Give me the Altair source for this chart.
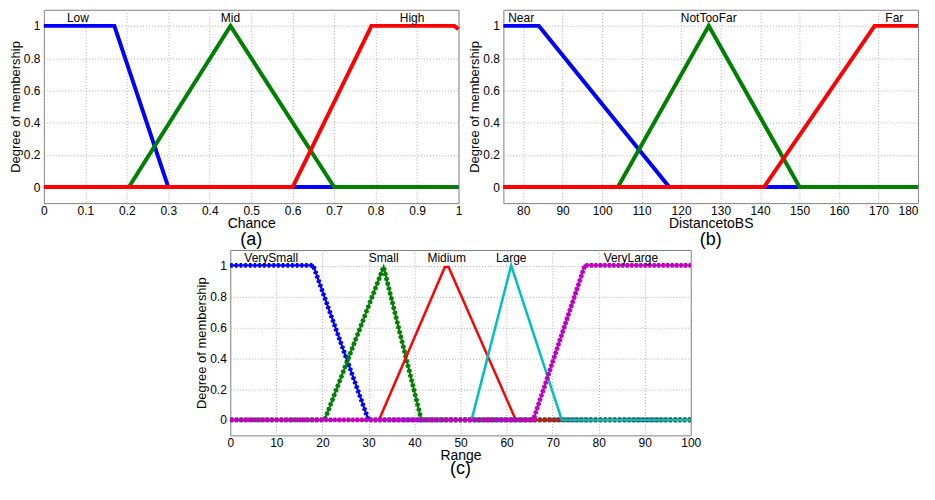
import altair as alt
import pandas as pd

# ---------------- Panel (a): Chance ----------------
A_LOW_X = [0.0, 0.17, 0.30, 1.0]
A_LOW_Y = [1, 1, 0, 0]
A_MID_X = [0.0, 0.205, 0.45, 0.70, 1.0]
A_MID_Y = [0, 0, 1, 0, 0]
A_HIGH_X = [0.0, 0.60, 0.79, 0.99, 1.0]
A_HIGH_Y = [0, 0, 1, 1, 0.98]
A_LABELS = ["Low", "Mid", "High"]
A_LABEL_X = [0.082, 0.45, 0.888]
A_XTICKS = [0, 0.1, 0.2, 0.3, 0.4, 0.5, 0.6, 0.7, 0.8, 0.9, 1.0]

# ---------------- Panel (b): DistancetoBS ----------------
B_NEAR_X = [75, 84, 117, 180]
B_NEAR_Y = [1, 1, 0, 0]
B_NTF_X = [75, 104, 127, 150, 180]
B_NTF_Y = [0, 0, 1, 0, 0]
B_FAR_X = [75, 141, 169, 180]
B_FAR_Y = [0, 0, 1, 1]
B_LABELS = ["Near", "NotTooFar", "Far"]
B_LABEL_X = [79.5, 127, 174]
B_XTICKS = [80, 90, 100, 110, 120, 130, 140, 150, 160, 170, 180]

# ---------------- Panel (c): Range ----------------
C_VS_X = [0, 18, 30, 100]
C_VS_Y = [1, 1, 0, 0]
C_S_X = [0, 20.5, 33.3, 41.5, 100]
C_S_Y = [0, 0, 0.99, 0, 0]
C_M_X = [0, 32.3, 46.6, 47.4, 62, 100]
C_M_Y = [0, 0, 0.99, 0.99, 0, 0]
C_L_X = [0, 52.4, 61, 72, 100]
C_L_Y = [0, 0, 1, 0, 0]
C_VL_X = [0, 65.8, 77, 100]
C_VL_Y = [0, 0, 1, 1]
C_LABELS = ["VerySmall", "Small", "Midium", "Large", "VeryLarge"]
C_LABEL_X = [8.9, 33.3, 47, 61, 87]
C_XTICKS = [0, 10, 20, 30, 40, 50, 60, 70, 80, 90, 100]

Y_TICKS = [0, 0.2, 0.4, 0.6, 0.8, 1.0]
LABEL_Y = 1.05

BLUE = "#0000FF"
GREEN = "#008000"
RED = "#FF0000"
CYAN = "#00BFBF"
MAGENTA = "#BF00BF"

FONT = "Liberation Sans"


def panel(series, xdomain, xticks, xtitle, letter, labels, label_x, w, h, xfmt,
          flush=False, letter_off=37):
    xscale = alt.Scale(domain=xdomain, nice=False, zero=False)
    yscale = alt.Scale(domain=[-0.1, 1.1], nice=False)
    xaxis = alt.Axis(values=xticks, format=xfmt, title=xtitle, grid=True,
                     ticks=False, domain=False, labelPadding=2, titlePadding=0,
                     titleFontSize=14, titleFontWeight="normal", labelFontSize=12,
                     labelFont=FONT, titleFont=FONT, labelColor="black",
                     titleColor="black", labelFlush=flush,
                     gridColor="#b0b0b0", gridDash=[1, 2])
    yaxis = alt.Axis(values=Y_TICKS, format=".1~f", title="Degree of membership",
                     grid=True, ticks=False, domain=False, labelPadding=4,
                     titlePadding=1, titleFontSize=13, titleFontWeight="normal",
                     labelFontSize=12, labelFont=FONT, titleFont=FONT,
                     labelColor="black", titleColor="black",
                     gridColor="#b0b0b0", gridDash=[1, 2])
    layers = []
    for xs, ys, color, sw, dash in series:
        df = pd.DataFrame({"x": xs, "y": ys})
        enc = dict(x=alt.X("x:Q", scale=xscale, axis=xaxis),
                   y=alt.Y("y:Q", scale=yscale, axis=yaxis))
        layers.append(alt.Chart(df).mark_line(color=color, strokeWidth=sw, clip=False)
                      .encode(**enc))
        if dash:
            layers.append(alt.Chart(df).mark_line(color=color, strokeWidth=sw + 2.5,
                                                  strokeDash=dash, clip=False)
                          .encode(**enc))
    ldf = pd.DataFrame({"x": label_x, "y": [LABEL_Y] * len(labels), "t": labels})
    layers.append(alt.Chart(ldf).mark_text(fontSize=12, font=FONT, color="black",
                                           baseline="middle")
                  .encode(x=alt.X("x:Q", scale=xscale, axis=xaxis),
                          y=alt.Y("y:Q", scale=yscale, axis=yaxis), text="t:N"))
    tdf = pd.DataFrame({"t": [letter]})
    layers.append(alt.Chart(tdf).mark_text(fontSize=18, font=FONT, color="black",
                                           baseline="middle")
                  .encode(x=alt.value(w / 2), y=alt.value(h + letter_off), text="t:N"))
    return alt.layer(*layers).properties(width=w, height=h)


pa = panel([
    (A_LOW_X, A_LOW_Y, BLUE, 4, None),
    (A_MID_X, A_MID_Y, GREEN, 4, None),
    (A_HIGH_X, A_HIGH_Y, RED, 4, None),
], [0, 1], A_XTICKS, "Chance", "(a)", A_LABELS, A_LABEL_X, 416, 194, ".1~f")

pb = panel([
    (B_NEAR_X, B_NEAR_Y, BLUE, 4, None),
    (B_NTF_X, B_NTF_Y, GREEN, 4, None),
    (B_FAR_X, B_FAR_Y, RED, 4, None),
], [75, 180], B_XTICKS, "DistancetoBS", "(b)", B_LABELS, B_LABEL_X, 416, 194, "d",
    flush=True)

pc = panel([
    (C_VS_X, C_VS_Y, BLUE, 2.2, [2.5, 2.2]),
    (C_S_X, C_S_Y, GREEN, 2.2, [3, 2]),
    (C_M_X, C_M_Y, RED, 2.5, None),
    (C_L_X, C_L_Y, CYAN, 2.5, None),
    (C_VL_X, C_VL_Y, MAGENTA, 2.2, [3, 1.5]),
], [0, 100], C_XTICKS, "Range", "(c)", C_LABELS, C_LABEL_X, 462, 186, "d",
    letter_off=34)

spacer = alt.Chart(pd.DataFrame({"x": [0]})).mark_point(opacity=0).encode(
    x=alt.X("x:Q", axis=None)
).properties(width=150, height=10, view=alt.ViewBackground(stroke="transparent"))

top = alt.hconcat(pa, pb, spacing=0)
bottom = alt.hconcat(spacer, pc, spacing=0)

chart = alt.vconcat(top, bottom, spacing=-8).properties(
    padding={"left": 0, "top": 0, "right": 0, "bottom": 0},
    background="white"
).configure_view(
    stroke="#808080", strokeWidth=1
)

chart.save("out.html", embed_options={"renderer": "svg", "actions": False})
